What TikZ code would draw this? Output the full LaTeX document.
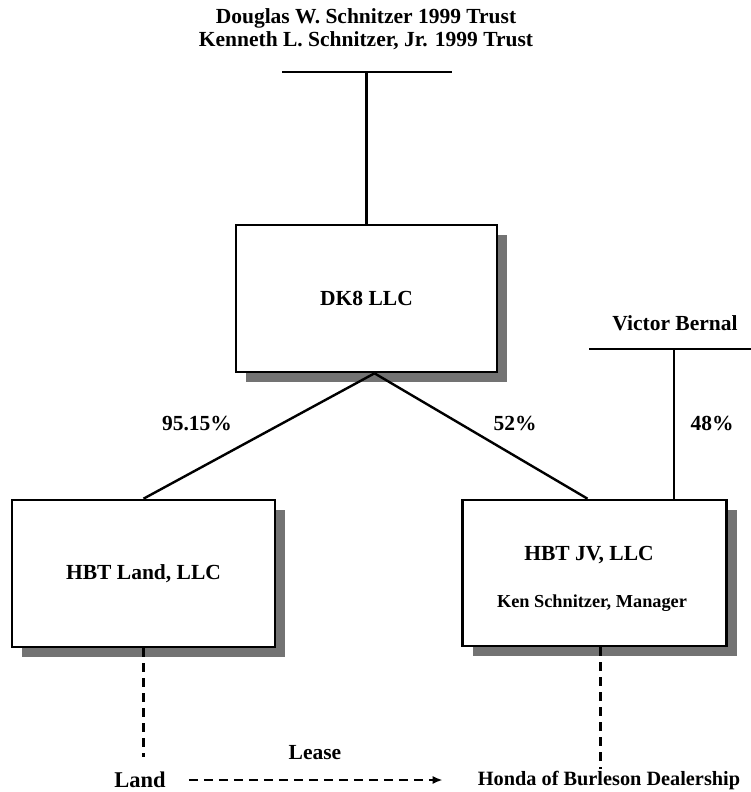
\documentclass[tikz,border=0pt]{standalone}
\usepackage{fontspec}
\setmainfont{Liberation Serif}
\usetikzlibrary{arrows.meta,shadows}

\begin{document}
\begin{tikzpicture}[x=1pt, y=-1pt,
    entity/.style={draw, line width=2.6pt, fill=white, inner sep=0pt,
        font=\bfseries\fontsize{21.5}{23}\selectfont,
        drop shadow={shadow xshift=10pt, shadow yshift=-10pt, fill=black!55, opacity=1}},
    txt/.style={font=\bfseries\fontsize{21.5}{23}\selectfont, inner sep=0pt, align=center},
    small/.style={font=\bfseries\fontsize{18.3}{20}\selectfont, inner sep=0pt},
    owns/.style={line width=2.4pt},
    lease/.style={line width=2.4pt, dash pattern=on 9pt off 6pt}]
    \useasboundingbox (0,0) rectangle (751,792);

    % Fideicomisos arriba
    \node[txt] (trusts) at (366,29.5) {Douglas W. Schnitzer 1999 Trust\\Kenneth L. Schnitzer, Jr. 1999 Trust};
    \coordinate (trustL) at (282,72);
    \coordinate (trustR) at (452,72);
    \draw[owns] (trustL) -- (trustR);

    % Cajas de las sociedades
    \node[entity, minimum width=261pt, minimum height=147pt] (dk8) at (366.5,298.5) {DK8 LLC};
    \node[entity, minimum width=263pt, minimum height=147pt] (hbtland) at (143.5,573.5) {HBT Land, LLC};
    \node[entity, minimum width=264pt, minimum height=146pt] (jv) at (594.5,573) {};
    \node[txt] (jvname) at (589,555) {HBT JV, LLC};
    \node[small] (jvmgr) at (592,603) {Ken Schnitzer, Manager};

    \draw[owns] (dk8.north) -- (dk8.north |- trustL);

    % Participaciones
    \draw[owns] ([xshift=8pt]dk8.south) -- (hbtland.north);
    \draw[owns] ([xshift=8pt]dk8.south) -- ([xshift=-7pt]jv.north);
    \node[txt] (pland) at (197,423) {95.15\%};
    \node[txt] (pjv) at (515,423) {52\%};

    % Victor Bernal
    \node[txt] (bernal) at (675,323) {Victor Bernal};
    \coordinate (bernalL) at (589,349);
    \coordinate (bernalR) at (751,349);
    \coordinate (bernalmid) at (674,349);
    \draw[owns] (bernalL) -- (bernalR);
    \draw[owns] (bernalmid) -- (bernalmid |- jv.north);
    \node[txt] (pbernal) at (712,423) {48\%};

    % Arrendamiento
    \node[txt, font=\bfseries\fontsize{22.5}{24}\selectfont] (land) at (140,780) {Land};
    \node[txt, font=\bfseries\fontsize{20.3}{22}\selectfont] (honda) at (609,781) {Honda of Burleson Dealership};
    \node[txt] (leaselbl) at (315,753) {Lease};
    \draw[lease, shorten >=15pt] (hbtland.south) -- (hbtland.south |- land.north);
    \draw[lease, shorten >=3pt] ([xshift=6pt]jv.south) -- ([xshift=6pt]jv.south |- honda.north);
    \draw[lease, shorten <=23pt, shorten >=35pt, -{Latex[length=10pt,width=8pt]}]
        (land.east) -- (land.east -| honda.west);
\end{tikzpicture}
\end{document}
